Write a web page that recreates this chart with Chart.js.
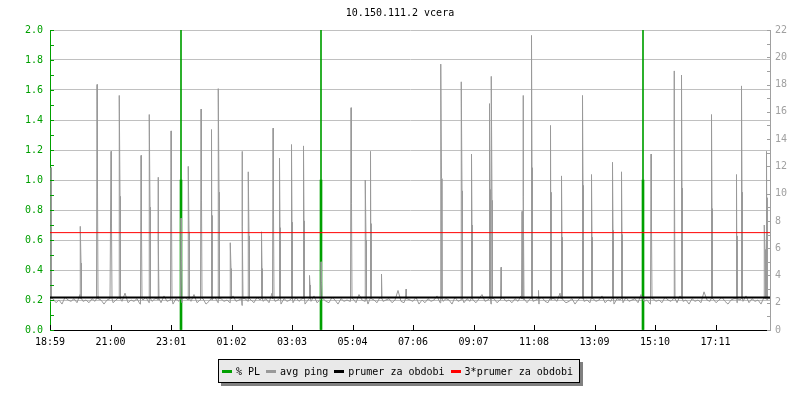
<!DOCTYPE html>
<html>
<head>
<meta charset="utf-8">
<script src="https://cdn.jsdelivr.net/npm/chart.js@4/dist/chart.umd.min.js"></script>
<style>
  body { margin: 0; background: #fff; }
  #wrap { position: relative; width: 800px; height: 400px; }
  #legend {
    position: absolute; left: 218px; top: 359px; width: 362px; height: 24px;
    box-sizing: border-box; border: 1px solid #000; background: #e9e9e9;
    box-shadow: 3px 3px 0 #808080;
    display: flex; align-items: center; padding-left: 3px;
    font: 10px "DejaVu Sans Mono", monospace; color: #000; white-space: pre;
  }
  #legend .mk { display: inline-block; width: 10px; height: 3px; margin-right: 4px; }
  #legend .it { display: flex; align-items: center; margin-right: 6px; }
</style>
</head>
<body>
<div id="wrap">
  <canvas id="pingChart" width="800" height="400"></canvas>
  <div id="legend"></div>
</div>
<script>
const chartTitle = "10.150.111.2 vcera";
const xTickLabels = ["18:59", "21:00", "23:01", "01:02", "03:03", "05:04",
  "07:06", "09:07", "11:08", "13:09", "15:10", "17:11"];
const tickStep = 121;   // minutes between time labels
const dayMinutes = 1440;

// avg ping background noise, one value every 6 minutes (ms)
const pingStep = 6;
const pingBase = [
  2.1, 2.3, 2.0, 2.2, 1.9, 2.4, 2.2, 2.1, 2.3, 2.0, 2.6, 2.1, 2.2, 2.0, 2.3, 2.1, 2.5, 2.2, 1.9, 2.2,
  2.3, 2.0, 2.2, 2.4, 2.1, 2.7, 2.0, 2.2, 2.1, 2.3, 1.9, 2.2, 2.4, 2.0, 2.1, 2.3, 2.2, 2.0, 2.5, 2.1,
  2.2, 1.9, 2.3, 2.1, 2.0, 2.4, 2.2, 2.1, 2.6, 2.0, 2.2, 2.3, 1.9, 2.1, 2.2, 2.4, 2.0, 2.3, 2.1, 2.2,
  2.0, 2.5, 2.1, 2.2, 1.8, 2.3, 2.1, 2.2, 2.0, 2.4, 2.2, 2.1, 2.3, 2.0, 2.7, 2.1, 2.2, 1.9, 2.3, 2.1,
  2.2, 2.0, 2.4, 2.1, 2.3, 1.9, 2.2, 2.1, 2.5, 2.0, 2.2, 2.3, 2.1, 2.0, 2.4, 2.2, 1.9, 2.3, 2.1, 2.2,
  2.1, 2.3, 2.0, 2.6, 2.2, 2.1, 1.9, 2.3, 2.2, 2.0, 2.4, 2.1, 2.2, 2.3, 2.0, 2.2, 2.9, 2.1, 2.0, 2.3,
  2.2, 2.1, 2.4, 1.9, 2.2, 2.0, 2.3, 2.1, 2.2, 2.5, 2.0, 2.1, 2.3, 2.2, 1.9, 2.4, 2.1, 2.2, 2.0, 2.3,
  2.1, 2.2, 2.0, 2.3, 2.6, 2.1, 2.2, 1.9, 2.3, 2.0, 2.2, 2.4, 2.1, 2.2, 2.0, 2.3, 2.1, 2.5, 2.2, 2.0,
  2.3, 2.1, 2.2, 1.9, 2.4, 2.1, 2.0, 2.2, 2.3, 2.1, 2.7, 2.2, 2.0, 2.1, 2.3, 1.9, 2.2, 2.4, 2.1, 2.2,
  2.0, 2.3, 2.1, 2.2, 2.5, 2.0, 2.2, 2.1, 1.9, 2.3, 2.2, 2.0, 2.4, 2.1, 2.2, 2.3, 2.0, 2.6, 2.1, 2.2,
  1.9, 2.3, 2.1, 2.2, 2.0, 2.4, 2.2, 2.1, 2.3, 2.0, 2.5, 2.1, 2.2, 1.9, 2.3, 2.1, 2.2, 2.0, 2.8, 2.2,
  2.1, 2.3, 2.0, 2.2, 2.4, 2.1, 1.9, 2.2, 2.3, 2.0, 2.2, 2.1, 2.5, 2.0, 2.3, 2.1, 2.2, 1.9, 2.4, 2.2,
  2.3
];

// ping spikes: minute after 18:59, peak value, value of the following sample
const spikeMinutes = [2, 61, 94, 122, 139, 182, 199, 216, 242, 262, 277, 302, 323, 337, 361,
  384, 397, 423, 446, 459, 483, 507, 519, 542, 602, 631, 641, 663, 712, 782, 823, 843, 879, 883,
  902, 944, 946, 963, 977, 1001, 1023, 1065, 1083, 1125, 1143, 1202, 1248, 1263, 1323, 1373,
  1383, 1429, 1433];
const spikeTops = [11.9, 7.6, 18.0, 13.1, 17.2, 12.8, 15.8, 11.2, 14.6, 8.2, 12.0, 16.2, 14.7, 17.7, 6.4,
  13.1, 11.6, 7.2, 14.8, 12.6, 13.6, 13.5, 4.0, 5.0, 16.3, 11.0, 13.1, 4.1, 3.0, 19.5, 18.2, 12.9, 16.6, 18.6,
  4.6, 8.7, 17.2, 21.6, 2.9, 15.0, 11.3, 17.2, 11.4, 12.3, 11.6, 12.9, 19.0, 18.7, 15.8, 11.4,
  17.9, 7.7, 13.1];
const spikeNext = [0, 4.9, 10.3, 7.8, 9.8, 7.3, 9.0, 6.6, 8.7, 5.1, 7.2, 9.5, 8.4, 10.1, 4.5,
  7.6, 6.9, 4.5, 8.5, 7.5, 7.9, 8.0, 3.3, 3.5, 9.3, 6.6, 7.8, 0, 0, 11.1, 10.2, 7.7, 10.3, 9.5,
  0, 5.5, 9.8, 11.9, 0, 10.1, 6.8, 10.6, 6.8, 7.3, 7.0, 7.5, 14.9, 10.4, 8.9, 6.9,
  10.1, 5.9, 9.7];
const spikeFoot = 2.3;   // ping level right before / after a spike

// packet loss (%), left axis
const plMinutes = [262, 542, 1186];
const plValues = [1.0, 1.0, 1.0];
const plPeaks = [2.0, 2.0, 2.0];

const prumer = 2.38;

const GREEN = "#00a000", GRAY = "#999999", RED = "#ff0000";
const FONT = { family: "'DejaVu Sans Mono', monospace", size: 10 };

const pingPoints = pingBase.map((v, i) => ({ x: i * pingStep, y: v }));
spikeMinutes.forEach((m, i) => {
  pingPoints.push({ x: m - 1, y: spikeFoot });
  pingPoints.push({ x: m, y: spikeTops[i] });
  if (spikeNext[i]) {
    pingPoints.push({ x: m + 1, y: spikeNext[i] });
    pingPoints.push({ x: m + 2, y: spikeFoot });
  } else {
    pingPoints.push({ x: m + 1, y: spikeFoot });
  }
});
pingPoints.sort((a, b) => a.x - b.x);

// small tick marks drawn on the inner side of each axis
const insideTicks = {
  id: "insideTicks",
  afterDatasetsDraw(chart) {
    const { ctx, chartArea: a, scales } = chart;
    ctx.save();
    ctx.lineWidth = 1;
    ctx.strokeStyle = GREEN;
    scales.yL.ticks.forEach(t => {
      const y = Math.round(scales.yL.getPixelForValue(t.value)) + 0.5;
      ctx.beginPath(); ctx.moveTo(a.left, y); ctx.lineTo(a.left + 4, y); ctx.stroke();
    });
    ctx.strokeStyle = "#a0a0a0";
    scales.yR.ticks.forEach(t => {
      const y = Math.round(scales.yR.getPixelForValue(t.value)) + 0.5;
      ctx.beginPath(); ctx.moveTo(a.right - 3, y); ctx.lineTo(a.right, y); ctx.stroke();
    });
    ctx.strokeStyle = "#000";
    scales.x.ticks.forEach(t => {
      const x = Math.round(scales.x.getPixelForValue(t.value)) + 0.5;
      ctx.beginPath(); ctx.moveTo(x, a.bottom); ctx.lineTo(x, a.bottom - 5); ctx.stroke();
    });
    ctx.restore();
  }
};

const chart = new Chart(document.getElementById("pingChart"), {
  type: "line",
  data: {
    datasets: [
      {
        type: "bar", label: "% PL", yAxisID: "yL", xAxisID: "x", order: 5,
        data: plMinutes.map((m, i) => ({ x: m, y: plValues[i] })),
        backgroundColor: GREEN, barThickness: 2, grouped: false
      },
      {
        type: "bar", label: "% PL peak", yAxisID: "yL", xAxisID: "x", order: 4,
        data: plMinutes.map((m, i) => ({ x: m, y: plPeaks[i] })),
        backgroundColor: GREEN, barThickness: 1, grouped: false
      },
      {
        label: "avg ping", yAxisID: "yR", xAxisID: "x", order: 3,
        data: pingPoints, borderColor: GRAY, borderWidth: 1, pointRadius: 0, tension: 0
      },
      {
        label: "prumer za obdobi", yAxisID: "yR", xAxisID: "x", order: 2,
        data: [{ x: 0, y: prumer }, { x: dayMinutes, y: prumer }],
        borderColor: "#000", borderWidth: 2, pointRadius: 0
      },
      {
        label: "3*prumer za obdobi", yAxisID: "yR", xAxisID: "x", order: 1,
        data: [{ x: 0, y: 3 * prumer }, { x: dayMinutes, y: 3 * prumer }],
        borderColor: RED, borderWidth: 1, pointRadius: 0
      }
    ]
  },
  options: {
    responsive: false,
    animation: false,
    layout: { padding: 0 },
    plugins: {
      legend: { display: false },
      tooltip: { enabled: false },
      title: {
        display: true, text: chartTitle, color: "#000",
        font: { ...FONT, weight: "normal" }, padding: { top: 7, bottom: 11 }
      }
    },
    scales: {
      x: {
        type: "linear", min: 0, max: dayMinutes, offset: false,
        afterBuildTicks: s => { s.ticks = xTickLabels.map((l, i) => ({ value: i * tickStep })); },
        afterFit: s => { s.height = 70; },
        ticks: {
          callback: (v, i) => xTickLabels[i], autoSkip: false, maxRotation: 0,
          color: "#000", font: FONT, padding: 6
        },
        grid: { display: false, drawTicks: false },
        border: { color: "#000", width: 1 }
      },
      yL: {
        position: "left", min: 0, max: 2,
        afterFit: s => { s.width = 50; },
        ticks: {
          stepSize: 0.1, autoSkip: false, color: GREEN, font: FONT, padding: 7,
          callback: v => (Math.round(v * 10) % 2 === 0 ? v.toFixed(1) : "")
        },
        grid: {
          drawTicks: false,
          color: c => (Math.round(c.tick.value * 10) % 2 === 0 ? "#c0c0c0" : "rgba(0,0,0,0)")
        },
        border: { color: GREEN, width: 1 }
      },
      yR: {
        position: "right", min: 0, max: 22,
        afterFit: s => { s.width = 30; },
        ticks: {
          stepSize: 1, autoSkip: false, color: "#a0a0a0", font: FONT, padding: 5,
          callback: v => (v % 2 === 0 ? v : "")
        },
        grid: { drawOnChartArea: false, drawTicks: false },
        border: { color: "#a0a0a0", width: 1 }
      }
    }
  },
  plugins: [insideTicks]
});

// legend box like the original (one entry per series)
const legendEl = document.getElementById("legend");
[["% PL", GREEN], ["avg ping", GRAY], ["prumer za obdobi", "#000"], ["3*prumer za obdobi", RED]]
  .forEach(([label, color]) => {
    const it = document.createElement("span");
    it.className = "it";
    const mk = document.createElement("span");
    mk.className = "mk";
    mk.style.background = color;
    it.appendChild(mk);
    it.appendChild(document.createTextNode(label));
    legendEl.appendChild(it);
  });
</script>
</body>
</html>
